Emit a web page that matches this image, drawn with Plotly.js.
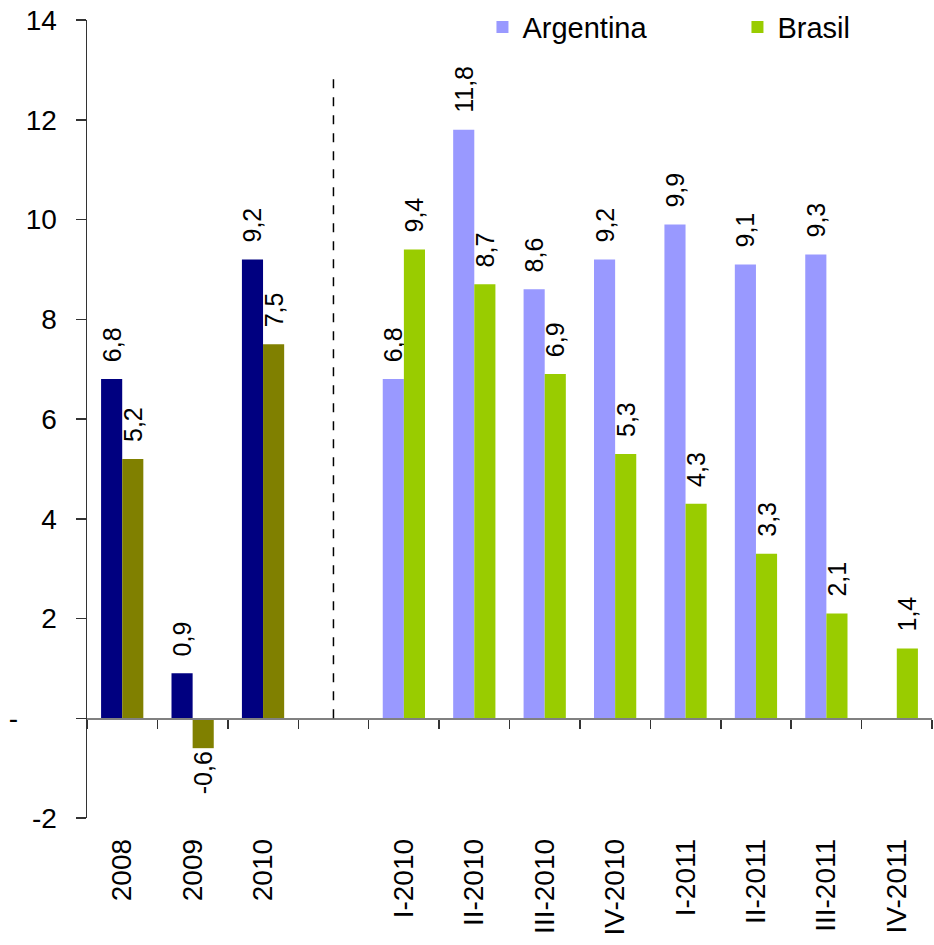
<!DOCTYPE html>
<html>
<head>
<meta charset="utf-8">
<script src="https://cdn.plot.ly/plotly-3.0.1.min.js"></script>
<style>html,body{margin:0;padding:0;background:#fff;}#chart{width:934px;height:945px;}</style>
</head>
<body>
<div id="chart"></div>
<script>
var yearCats = ["2008", "2009", "2010"];
var gapCat = " ";
var quarterCats = ["I-2010", "II-2010", "III-2010", "IV-2010", "I-2011", "II-2011", "III-2011", "IV-2011"];
var argYears = [6.8, 0.9, 9.2];
var braYears = [5.2, -0.6, 7.5];
var argQuarters = [6.8, 11.8, 8.6, 9.2, 9.9, 9.1, 9.3, null];
var braQuarters = [9.4, 8.7, 6.9, 5.3, 4.3, 3.3, 2.1, 1.4];
var yTickVals = [-2, 0, 2, 4, 6, 8, 10, 12, 14];
var yTickText = ["-2", "-\u00a0\u00a0\u00a0\u00a0\u00a0", "2", "4", "6", "8", "10", "12", "14"];

var allCats = yearCats.concat([gapCat]).concat(quarterCats);
var FONT = "Liberation Sans, Arial, sans-serif";
var labelFont = {family: FONT, size: 25, color: "#000"};

function barTrace(name, xs, ys, color, group, showlegend) {
  return {
    type: "bar", name: name, x: xs, y: ys,
    marker: {color: color},
    offsetgroup: group, legendgroup: group, showlegend: showlegend,
    texttemplate: "\u00a0\u00a0%{y:.1f}", textposition: "outside", textangle: -90,
    constraintext: "none",
    textfont: labelFont, cliponaxis: false, hoverinfo: "x+y+name"
  };
}

var traces = [
  barTrace("Argentina", yearCats, argYears, "#000080", "A", false),
  barTrace("Brasil", yearCats, braYears, "#808000", "B", false),
  barTrace("Argentina", quarterCats, argQuarters, "#9999FF", "A", true),
  barTrace("Brasil", quarterCats, braQuarters, "#99CC00", "B", true)
];

var layout = {
  width: 934, height: 945,
  margin: {l: 87, r: 2, t: 20, b: 127, autoexpand: false},
  paper_bgcolor: "#fff", plot_bgcolor: "#fff",
  font: {family: FONT, size: 28, color: "#000"},
  separators: ",.",
  barmode: "group", bargap: 0.4, bargroupgap: 0,
  showlegend: true,
  legend: {orientation: "h", x: 0.468, xanchor: "left", y: 1.023, yanchor: "top",
           font: {family: FONT, size: 29, color: "#000"},
           entrywidth: 210, entrywidthmode: "pixels", traceorder: "normal",
           bgcolor: "rgba(0,0,0,0)"},
  xaxis: {
    type: "category", categoryorder: "array", categoryarray: allCats,
    range: [-0.5, 11.5], anchor: "free", position: 0.125,
    showline: true, linecolor: "#808080", linewidth: 1.5,
    ticks: "outside", tickson: "boundaries", ticklen: 9, tickcolor: "#333", tickwidth: 1.5,
    tickangle: -90, ticklabelstandoff: 108,
    tickfont: {family: FONT, size: 28, color: "#000"},
    showgrid: false, zeroline: false, fixedrange: true
  },
  yaxis: {
    range: [-2, 14], tickvals: yTickVals, ticktext: yTickText,
    showline: true, linecolor: "#333", linewidth: 1.5,
    ticks: "outside", ticklen: 10, tickcolor: "#333", tickwidth: 1.5,
    ticklabelstandoff: 13,
    tickfont: {family: FONT, size: 28, color: "#000"},
    showgrid: false, zeroline: false, fixedrange: true
  },
  shapes: [{
    type: "line", xref: "x", yref: "y", x0: gapCat, x1: gapCat, y0: 0, y1: 12.9,
    line: {color: "#000", width: 1.5, dash: "dash"}
  }]
};

Plotly.newPlot("chart", traces, layout, {staticPlot: true, displayModeBar: false});
</script>
</body>
</html>
